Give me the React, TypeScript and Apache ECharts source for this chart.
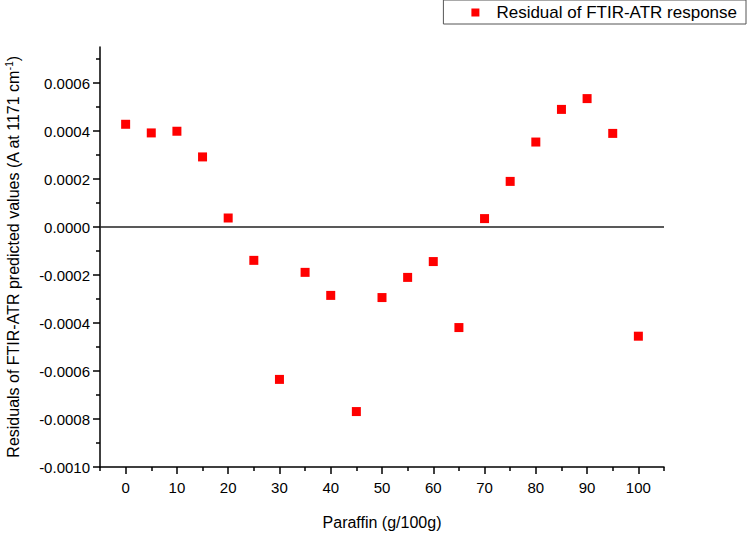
import React, { useEffect, useRef } from "react";
import * as echarts from "echarts";

const paraffin = [0, 5, 10, 15, 20, 25, 30, 35, 40, 45, 50, 55, 60, 65, 70, 75, 80, 85, 90, 95, 100];
const residuals = [
  0.000428, 0.000392, 0.000399, 0.000292, 0.0000375, -0.000139, -0.000635, -0.000189,
  -0.000285, -0.000769, -0.000294, -0.00021, -0.000144, -0.000419, 0.000035, 0.00019,
  0.000354, 0.00049, 0.000535, 0.00039, -0.000455,
];
const xTicks = [0, 10, 20, 30, 40, 50, 60, 70, 80, 90, 100];
const xMinorTicks = [-5, 5, 15, 25, 35, 45, 55, 65, 75, 85, 95, 105];
const yTicks = [-0.001, -0.0008, -0.0006, -0.0004, -0.0002, 0, 0.0002, 0.0004, 0.0006];
const yMinorTicks = [-0.0009, -0.0007, -0.0005, -0.0003, -0.0001, 0.0001, 0.0003, 0.0005, 0.0007];
const seriesName = "Residual of FTIR-ATR response";

const FONT = "Liberation Sans, Arial, sans-serif";
const X_MIN = -5;
const X_MAX = 105;
const Y_MIN = -0.001;
const Y_MAX = 0.00075;

export default function App() {
  const ref = useRef<HTMLDivElement>(null);
  useEffect(() => {
    if (!ref.current) return;
    const chart = echarts.init(ref.current, undefined, { renderer: "svg" });
    const lineStyle = { color: "#000", width: 1.5 };
    chart.setOption({
      animation: false,
      backgroundColor: "#ffffff",
      textStyle: { fontFamily: FONT },
      legend: {
        top: 0,
        right: 4,
        orient: "horizontal",
        padding: [4, 9, 3, 28],
        borderColor: "#555",
        borderWidth: 1,
        itemWidth: 8,
        itemHeight: 8,
        icon: "rect",
        textStyle: { fontSize: 17, color: "#000", fontFamily: FONT, padding: [0, 0, 0, 12] },
        data: [seriesName],
      },
      grid: { left: 100, right: 86, top: 47, bottom: 66, containLabel: false, outerBoundsMode: "none" },
      xAxis: [
        {
          type: "value",
          min: X_MIN,
          max: X_MAX,
          name: "Paraffin (g/100g)",
          nameLocation: "middle",
          nameGap: 47,
          nameTextStyle: { fontSize: 16, color: "#000", fontFamily: FONT },
          axisLine: { show: true, onZero: false, lineStyle },
          axisTick: { show: true, inside: false, length: 7, lineStyle, customValues: xTicks },
          axisLabel: { fontSize: 15, color: "#000", margin: 13, fontFamily: FONT, customValues: xTicks },
          splitLine: { show: false },
        },
        {
          type: "value",
          position: "bottom",
          min: X_MIN,
          max: X_MAX,
          axisLine: { show: false, onZero: false },
          axisTick: { show: true, inside: false, length: 4, lineStyle, customValues: xMinorTicks },
          axisLabel: { show: false },
          splitLine: { show: false },
        },
      ],
      yAxis: [
        {
          type: "value",
          min: Y_MIN,
          max: Y_MAX,
          name: "Residuals of FTIR-ATR predicted values (A at 1171 cm{sup|-1})",
          nameLocation: "middle",
          nameGap: 78,
          nameRotate: 90,
          nameTextStyle: {
            fontSize: 16,
            color: "#000",
            fontFamily: FONT,
            rich: { sup: { fontSize: 10, color: "#000", verticalAlign: "top", padding: [0, 0, 8, 0], fontFamily: FONT } },
          },
          axisLine: { show: true, onZero: false, lineStyle },
          axisTick: { show: true, inside: false, length: 7, lineStyle, customValues: yTicks },
          axisLabel: {
            fontSize: 15,
            color: "#000",
            margin: 10,
            fontFamily: FONT,
            customValues: yTicks,
            formatter: (v: number) => v.toFixed(4),
          },
          splitLine: { show: false },
        },
        {
          type: "value",
          position: "left",
          min: Y_MIN,
          max: Y_MAX,
          axisLine: { show: false, onZero: false },
          axisTick: { show: true, inside: false, length: 4, lineStyle, customValues: yMinorTicks },
          axisLabel: { show: false },
          splitLine: { show: false },
        },
      ],
      series: [
        {
          name: seriesName,
          type: "scatter",
          xAxisIndex: 0,
          yAxisIndex: 0,
          data: paraffin.map((x, i) => [x, residuals[i]]),
          symbol: "rect",
          symbolSize: 9,
          itemStyle: { color: "#ff0000", opacity: 1 },
          markLine: {
            silent: true,
            symbol: ["none", "none"],
            label: { show: false },
            lineStyle: { color: "#222", width: 1.5, type: "solid" },
            data: [{ yAxis: 0 }],
          },
        },
      ],
    });
    return () => chart.dispose();
  }, []);
  return <div ref={ref} style={{ position: "absolute", left: 0, top: 0, width: 750, height: 533 }} />;
}
